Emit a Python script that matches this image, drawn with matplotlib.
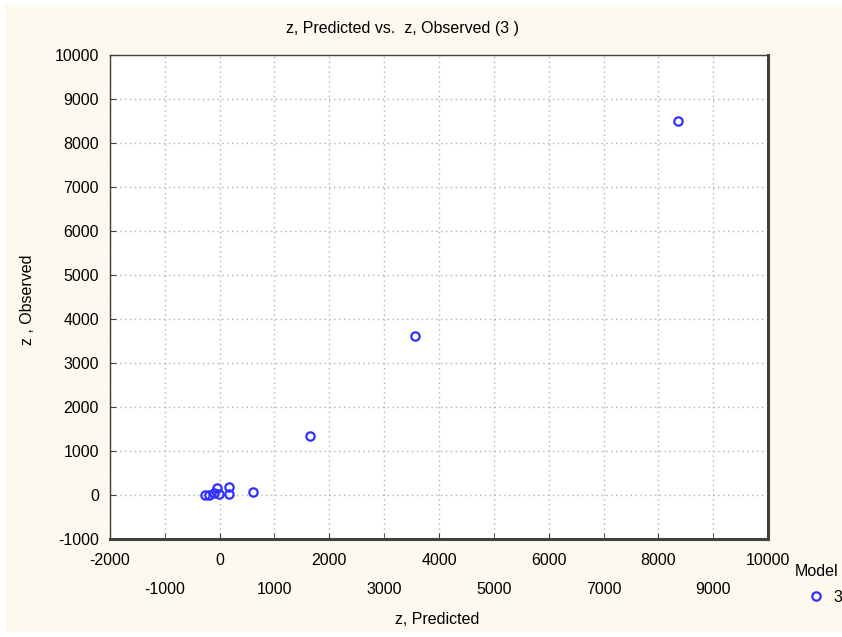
import numpy as np
import matplotlib.pyplot as plt
from matplotlib.lines import Line2D
from matplotlib.patches import Rectangle
from matplotlib.ticker import FixedLocator

# z, Predicted vs z, Observed (model 3)
predicted = [-260, -190, -100, -50, -20, 170, 170, 600, 1650, 3560, 8360]
observed = [0, 0, 40, 160, 30, 180, 20, 70, 1340, 3620, 8500]

major_x = [-2000, 0, 2000, 4000, 6000, 8000, 10000]
minor_x = [-1000, 1000, 3000, 5000, 7000, 9000]
y_ticks = [-1000, 0, 1000, 2000, 3000, 4000, 5000, 6000, 7000, 8000, 9000, 10000]

plt.rcParams['font.family'] = ['Liberation Sans', 'DejaVu Sans']
FS = 11.5

fig = plt.figure(figsize=(8.42, 6.37), dpi=100)
fig.patch.set_facecolor('white')
fig.add_artist(Rectangle((5/842, 5/637), 1.0, 1 - 10/637, transform=fig.transFigure,
                         facecolor='#fef9ee', edgecolor='none', zorder=-10))

ax = fig.add_axes([110/842, 1 - 539/637, 658/842, 484/637])
ax.set_facecolor('white')
ax.plot(predicted, observed, 'o', mfc='none', mec='#3030ff', mew=1.6, ms=6, zorder=3)

ax.set_xlim(-2000, 10000)
ax.set_ylim(-1000, 10000)
ax.xaxis.set_major_locator(FixedLocator(major_x))
ax.xaxis.set_minor_locator(FixedLocator(minor_x))
ax.set_xticklabels([str(v) for v in major_x])
ax.set_xticklabels([str(v) for v in minor_x], minor=True)
ax.set_yticks(y_ticks)
ax.set_yticklabels([str(v) for v in y_ticks])

ax.tick_params(which='both', direction='in', length=4, color='#404040', labelsize=FS)
ax.tick_params(axis='x', which='major', pad=10)
ax.tick_params(axis='x', which='minor', pad=31)
ax.tick_params(axis='y', pad=8)

ax.grid(True, which='both', linestyle=(0, (1, 2.5)), color='#b0b0b0', linewidth=1.0)

for s in ['left', 'top']:
    ax.spines[s].set_linewidth(1.0)
    ax.spines[s].set_color('#404040')
for s in ['right', 'bottom']:
    ax.spines[s].set_linewidth(2.2)
    ax.spines[s].set_color('#404040')

fig.text(403/842, 1 - 28/637, 'z, Predicted vs.  z, Observed (3 )', ha='center', va='center', fontsize=FS)
fig.text(437/842, 1 - 620/637, 'z, Predicted', ha='center', va='center', fontsize=FS)
fig.text(27/842, 1 - 300/637, 'z , Observed', ha='center', va='center', rotation=90, fontsize=FS)

fig.text(795/842, 1 - 572/637, 'Model', ha='left', va='center', fontsize=FS)
handle = Line2D([], [], marker='o', linestyle='none', mfc='none', mec='#3030ff', mew=1.6, ms=6)
fig.legend(handles=[handle], labels=['3'], loc='center left', bbox_to_anchor=(802/842, 1 - 597/637),
           frameon=False, fontsize=FS, handlelength=1.0, handletextpad=0.6, borderaxespad=0)

fig.savefig('out.png', dpi=100)
